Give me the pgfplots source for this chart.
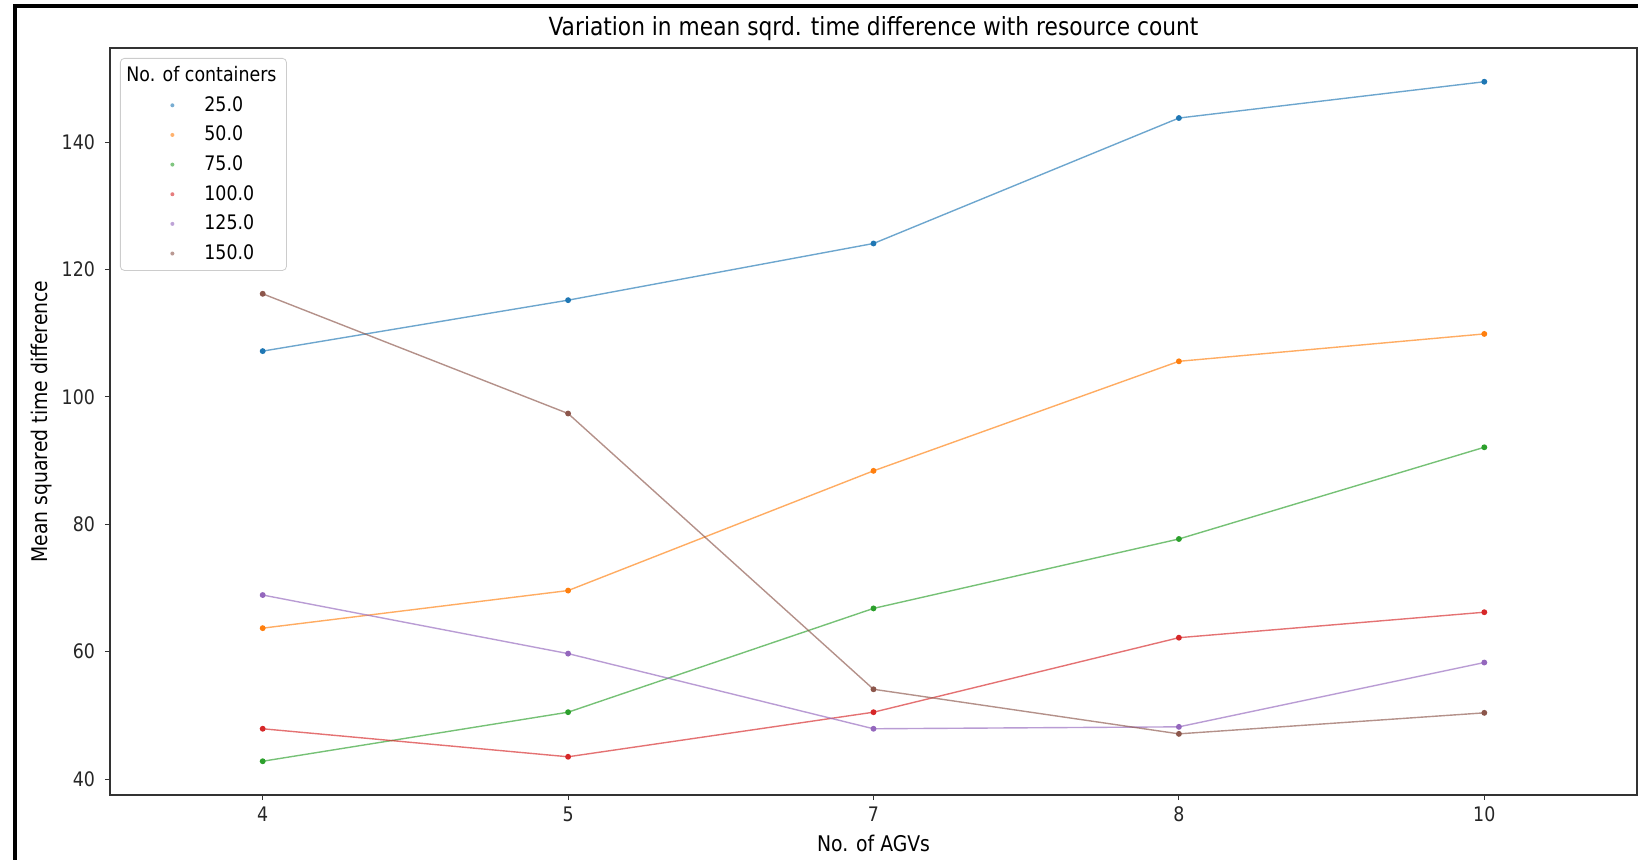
\documentclass[border=0pt]{standalone}
\usepackage{fontspec}
\setmainfont{DejaVu Sans}[FakeStretch=0.87]
\usepackage{pgfplots}
\pgfplotsset{compat=1.18}

% matplotlib tab10
\definecolor{c0}{HTML}{1F77B4}
\definecolor{c1}{HTML}{FF7F0E}
\definecolor{c2}{HTML}{2CA02C}
\definecolor{c3}{HTML}{D62728}
\definecolor{c4}{HTML}{9467BD}
\definecolor{c5}{HTML}{8C564B}

\pgfplotsset{
  dotlegend/.style={legend image code/.code={%
    \path[draw=none, fill=none] (0pt,0pt) -- (37pt,0pt);
    \fill[##1, draw=none, fill opacity=0.6] (23pt,0pt) circle (1pt);}},
  ser/.style={color=#1, line width=0.7pt, mark=*, mark size=1.1pt,
    draw opacity=0.65, mark options={solid, draw opacity=1, fill opacity=1},
    dotlegend},
}

\begin{document}
\begin{tikzpicture}
\useasboundingbox (-55pt,-32.5pt) rectangle (764pt,397.5pt);
% frame of the screenshot
\draw[line width=2pt] (-47.25pt,-32.5pt) -- (-47.25pt,394.25pt) -- (764pt,394.25pt);
\begin{axis}[
  at={(0,0)}, anchor=south west,
  scale only axis, width=763.5pt, height=373.5pt,
  xmin=-0.5, xmax=4.5, ymin=37.5, ymax=154.8,
  xtick={0,1,2,3,4}, xticklabels={4,5,7,8,10},
  ytick={40,60,...,140},
  tick pos=left, tick align=outside, major tick length=2.5pt,
  axis line style={black!80, line width=0.6pt},
  tick style={black!80, line width=0.5pt},
  /pgf/number format/assume math mode=true,
  ticklabel style={font=\fontsize{10}{12}\selectfont, text=black!85},
  yticklabel style={xshift=-1.5pt},
  title={Variation in mean sqrd. time difference with resource count},
  title style={at={(0.5,1)}, anchor=base, font=\fontsize{12.5}{14}\selectfont},
  xlabel={No. of AGVs},
  xlabel style={at={(0.5,0)}, anchor=base, yshift=-28.5pt, font=\fontsize{10.8}{12}\selectfont},
  ylabel={Mean squared time difference},
  ylabel style={at={([xshift=-34pt]axis description cs:0,0.5)}, anchor=center, font=\fontsize{10.8}{12}\selectfont},
  legend cell align=left,
  legend style={at={(0,1)}, anchor=north west, xshift=5pt, yshift=-5pt,
    draw=black!20, rounded corners=2pt, fill=white, row sep=1.9pt,
    font=\fontsize{10}{12}\selectfont},
]
\addlegendimage{empty legend}
\addlegendentry{\hspace*{-39pt}No. of containers}

\addplot[ser=c0] coordinates {(0,107.2) (1,115.2) (2,124.1) (3,143.8) (4,149.5)};
\addlegendentry{25.0}
\addplot[ser=c1] coordinates {(0,63.7) (1,69.6) (2,88.4) (3,105.6) (4,109.9)};
\addlegendentry{50.0}
\addplot[ser=c2] coordinates {(0,42.8) (1,50.5) (2,66.8) (3,77.7) (4,92.1)};
\addlegendentry{75.0}
\addplot[ser=c3] coordinates {(0,47.9) (1,43.5) (2,50.5) (3,62.2) (4,66.2)};
\addlegendentry{100.0}
\addplot[ser=c4] coordinates {(0,68.9) (1,59.7) (2,47.9) (3,48.2) (4,58.3)};
\addlegendentry{125.0}
\addplot[ser=c5] coordinates {(0,116.2) (1,97.4) (2,54.1) (3,47.1) (4,50.4)};
\addlegendentry{150.0}
\end{axis}
\end{tikzpicture}
\end{document}
